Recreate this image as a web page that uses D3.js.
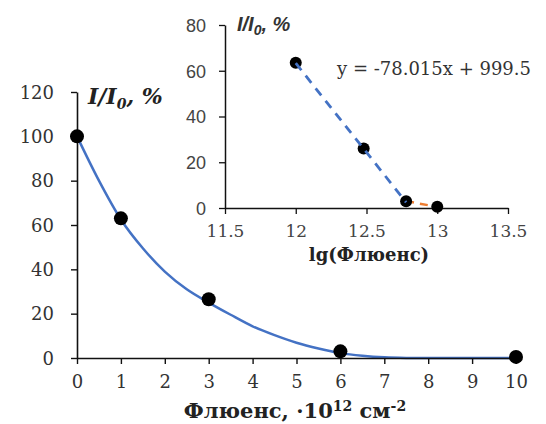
<!DOCTYPE html>
<html>
<head>
<meta charset="utf-8">
<script src="https://cdn.jsdelivr.net/npm/d3@7"></script>
<style>
  body { margin: 0; background: #fff; }
</style>
</head>
<body>
<div class="canvas"></div>
<script>
// main chart data
const fluence = [0, 1, 3, 6, 10];
const intensity = [100, 63, 26.5, 3, 0.5];
// smooth fitted curve
const curveX = [0, 0.5, 1, 1.5, 2, 2.5, 3, 3.5, 4, 4.5, 5, 5.5, 6, 6.5, 7, 7.5, 8, 9, 10];
const curveY = [100, 80, 62.5, 49.5, 39, 31, 25, 19.5, 14.3, 10.3, 6.9, 4.3, 2.2, 1, 0.3, 0.05, 0, 0, 0];
const mainXTicks = [0, 1, 2, 3, 4, 5, 6, 7, 8, 9, 10];
const mainYTicks = [0, 20, 40, 60, 80, 100, 120];

// inset data
const lgFluence = [12, 12.48, 12.78, 13];
const lgIntensity = [63.5, 26, 3, 0.5];
const trendX = [12, 12.78];
const trendY = [63.3, 2.5];
const tailX = [12.78, 13];
const tailY = [3, 0.5];
const insetXTicks = [11.5, 12, 12.5, 13, 13.5];
const insetYTicks = [0, 20, 40, 60, 80];

const SERIF = 'DejaVu Serif';
const SANS = 'Liberation Sans';

const dims = { width: 546, height: 424 };

const svg = d3.select('.canvas')
    .append('svg')
    .attr('width', dims.width)
    .attr('height', dims.height)
    .attr('font-family', SERIF);

// ---- main chart ----
const x = d3.scaleLinear().domain([0, 10]).range([77, 516]);
const y = d3.scaleLinear().domain([0, 120]).range([358, 92]);

const line = d3.line()
    .x(d => x(d[0]))
    .y(d => y(d[1]))
    .curve(d3.curveMonotoneX);

svg.append('path')
    .datum(d3.zip(curveX, curveY))
    .attr('d', line)
    .attr('fill', 'none')
    .attr('stroke', '#4472c4')
    .attr('stroke-width', 2.5);

const xAxis = svg.append('g')
    .attr('transform', `translate(0, ${y(0)})`)
    .call(d3.axisBottom(x).tickValues(mainXTicks).tickSize(6).tickSizeOuter(0));

const yAxis = svg.append('g')
    .attr('transform', `translate(${x(0)}, 0)`)
    .call(d3.axisLeft(y).tickValues(mainYTicks).tickSize(6).tickSizeOuter(0));

[xAxis, yAxis].forEach(a => {
    a.attr('font-family', SERIF).attr('font-size', 18);
    a.select('.domain').attr('stroke', '#111').attr('stroke-width', 1.6);
    a.selectAll('.tick line').attr('stroke', '#111').attr('stroke-width', 1.4);
    a.selectAll('.tick text').attr('fill', '#333');
});
xAxis.selectAll('.tick text').attr('y', 14).attr('dy', '0.9em');
yAxis.selectAll('.tick text').attr('x', -23).attr('dy', '0.35em');

svg.append('g').selectAll('circle')
    .data(d3.zip(fluence, intensity))
    .enter()
    .append('circle')
        .attr('cx', d => x(d[0]))
        .attr('cy', d => y(d[1]))
        .attr('r', 7)
        .attr('fill', '#000');

// axis titles
const xt = svg.append('text')
    .attr('x', 295)
    .attr('y', 418)
    .attr('text-anchor', 'middle')
    .attr('font-family', SERIF)
    .attr('font-size', 21)
    .attr('font-weight', 'bold')
    .attr('fill', '#222');
xt.append('tspan').text('Флюенс, ·10');
xt.append('tspan').attr('font-size', 14).attr('dy', -7).text('12');
xt.append('tspan').attr('dy', 7).text(' см');
xt.append('tspan').attr('font-size', 14).attr('dy', -7).text('-2');

const yt = svg.append('text')
    .attr('x', 88)
    .attr('y', 104)
    .attr('font-family', SERIF)
    .attr('font-size', 22)
    .attr('font-weight', 'bold')
    .attr('font-style', 'italic')
    .attr('fill', '#222');
yt.append('tspan').text('I/I');
yt.append('tspan').attr('font-size', 14).attr('dy', 5).text('0');
yt.append('tspan').attr('dy', -5).text(', %');

// ---- inset ----
const ix = d3.scaleLinear().domain([11.5, 13.5]).range([225, 508]);
const iy = d3.scaleLinear().domain([0, 80]).range([208, 25]);

const ixAxis = svg.append('g')
    .attr('transform', `translate(0, ${iy(0)})`)
    .call(d3.axisBottom(ix).tickValues(insetXTicks).tickFormat(d3.format('')).tickSize(6).tickSizeOuter(0));

const iyAxis = svg.append('g')
    .attr('transform', `translate(${ix(11.5)}, 0)`)
    .call(d3.axisLeft(iy).tickValues(insetYTicks).tickSize(6).tickSizeOuter(0));

[ixAxis, iyAxis].forEach(a => {
    a.select('.domain').attr('stroke', '#111').attr('stroke-width', 1.5);
    a.selectAll('.tick line').attr('stroke', '#111').attr('stroke-width', 1.3);
    a.selectAll('.tick text').attr('fill', '#444');
});
ixAxis.attr('font-family', SERIF).attr('font-size', 17);
ixAxis.selectAll('.tick text').attr('dy', '1.2em');
iyAxis.attr('font-family', SANS).attr('font-size', 18);
iyAxis.selectAll('.tick text').attr('x', -19).attr('dy', '0.35em');

const iline = d3.line()
    .x(d => ix(d[0]))
    .y(d => iy(d[1]));

svg.append('path')
    .datum(d3.zip(tailX, tailY))
    .attr('d', iline)
    .attr('fill', 'none')
    .attr('stroke', '#ed7d31')
    .attr('stroke-width', 2.5)
    .attr('stroke-dasharray', '8,6');

svg.append('g').selectAll('circle')
    .data(d3.zip(lgFluence, lgIntensity))
    .enter()
    .append('circle')
        .attr('cx', d => ix(d[0]))
        .attr('cy', d => iy(d[1]))
        .attr('r', 6)
        .attr('fill', '#000');

svg.append('path')
    .datum(d3.zip(trendX, trendY))
    .attr('d', iline)
    .attr('fill', 'none')
    .attr('stroke', '#4472c4')
    .attr('stroke-width', 2.8)
    .attr('stroke-dasharray', '9,7');

svg.append('text')
    .attr('x', 337)
    .attr('y', 75)
    .attr('font-family', SERIF)
    .attr('font-size', 18)
    .attr('fill', '#333')
    .text('y = -78.015x + 999.5');

svg.append('text')
    .attr('x', 369)
    .attr('y', 261)
    .attr('text-anchor', 'middle')
    .attr('font-family', SERIF)
    .attr('font-size', 18)
    .attr('font-weight', 'bold')
    .attr('fill', '#222')
    .text('lg(Флюенс)');

const it = svg.append('text')
    .attr('x', 237)
    .attr('y', 31)
    .attr('font-family', SANS)
    .attr('font-size', 20)
    .attr('font-weight', 'bold')
    .attr('font-style', 'italic')
    .attr('fill', '#333');
it.append('tspan').text('I/I');
it.append('tspan').attr('font-size', 14).attr('dy', 4).text('0');
it.append('tspan').attr('dy', -4).text(', %');
</script>
</body>
</html>
